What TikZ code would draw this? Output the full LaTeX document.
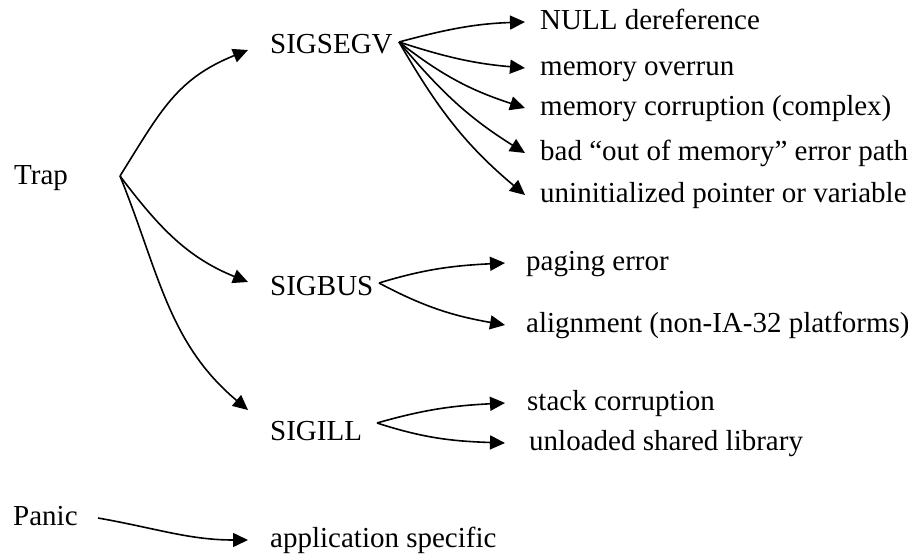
\documentclass[tikz,border=0pt]{standalone}
\usepackage{fontspec}
\setmainfont{Liberation Serif}
\usetikzlibrary{arrows.meta}

\begin{document}
\begin{tikzpicture}[x=1pt,y=1pt,
    font=\fontsize{29}{33}\selectfont,
    every node/.style={inner sep=0pt},
    sig/.style={anchor=base west, inner xsep=22pt},
    leaf/.style={anchor=west, text height=14pt, text depth=0pt, inner xsep=15pt},
    arr/.style={line width=1.6pt, -{Triangle[length=15pt,width=14pt]}}]
    \useasboundingbox (0,0) rectangle (908,-554);

    % sources
    \node[anchor=base west] (trap) at (14,-184) {Trap};
    \node[anchor=base west] (panic) at (13,-525) {Panic};
    \coordinate (trap-fork) at (120,-176);
    \coordinate (panic-fork) at (98,-518);

    % signals
    \node[sig] (sigsegv) at (248,-53) {SIGSEGV};
    \node[sig] (sigbus) at (248,-295) {SIGBUS};
    \node[sig] (sigill) at (248,-440) {SIGILL};
    \coordinate (segv-fork) at (399,-42);
    \coordinate (bus-fork) at (379,-283);
    \coordinate (ill-fork) at (377,-423);

    % causes
    \node[leaf] (nullref) at (525,-22) {NULL dereference};
    \node[leaf] (overrun) at (525,-68) {memory overrun};
    \node[leaf] (corrupt) at (525,-108) {memory corruption (complex)};
    \node[leaf] (oompath) at (525,-153) {bad ``out of memory'' error path};
    \node[leaf] (uninit) at (525,-195) {uninitialized pointer or variable};
    \node[leaf, inner xsep=21pt] (paging) at (505,-263) {paging error};
    \node[leaf, inner xsep=21pt] (align) at (505,-325) {alignment (non-IA-32 platforms)};
    \node[leaf, inner xsep=22pt] (stack) at (505,-403) {stack corruption};
    \node[leaf, inner xsep=24pt] (unloaded) at (505,-443) {unloaded shared library};
    \node[leaf, inner xsep=22pt] (appspec) at (248,-540) {application specific};

    % trap -> signals
    \draw[arr] (trap-fork) to[out=58,in=202,looseness=1.1] ([yshift=3pt]sigsegv.base west);
    \draw[arr] (trap-fork) to[out=-53,in=158] ([yshift=13pt]sigbus.base west);
    \draw[arr] (trap-fork) to[out=-68,in=140] ([yshift=30pt]sigill.base west);
    \draw[arr] (panic-fork) to[out=-10,in=180] (appspec.west);

    % signals -> causes
    \draw[arr] (segv-fork) to[out=15,in=182] (nullref.west);
    \draw[arr] (segv-fork) to[out=-18,in=175] (overrun.west);
    \draw[arr] (segv-fork) to[out=-38,in=162] (corrupt.west);
    \draw[arr] (segv-fork) to[out=-50,in=148] (oompath.west);
    \draw[arr] (segv-fork) to[out=-60,in=140] (uninit.west);
    \draw[arr] (bus-fork) to[out=17,in=183] (paging.west);
    \draw[arr] (bus-fork) to[out=-28,in=170] (align.west);
    \draw[arr] (ill-fork) to[out=16,in=183] (stack.west);
    \draw[arr] (ill-fork) to[out=-18,in=178] (unloaded.west);
\end{tikzpicture}
\end{document}
